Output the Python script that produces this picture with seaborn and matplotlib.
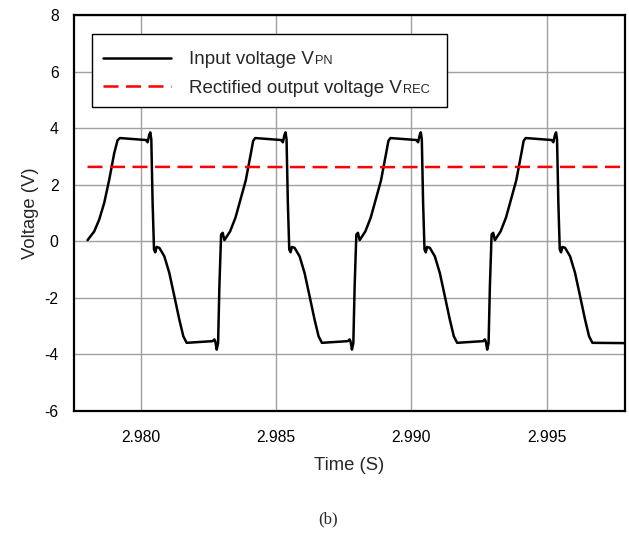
import numpy as np
import pandas as pd
import matplotlib
matplotlib.use("Agg")
import matplotlib.pyplot as plt
from matplotlib.patches import Rectangle
import seaborn as sns

# ---- data ----
time_s = [
    2.978031, 2.978279, 2.978464, 2.978649, 2.978834, 2.979019, 2.979141,
    # period 1
    2.979230, 2.980193, 2.980252, 2.980315, 2.980352, 2.980389, 2.980437, 2.980489,
    2.980537, 2.980585, 2.980685, 2.980870, 2.981055, 2.981240, 2.981425, 2.981573,
    2.981696, 2.982658, 2.982721, 2.982758, 2.982806, 2.982858, 2.982906, 2.982969,
    2.983028, 2.983091, 2.983302, 2.983502, 2.983880, 2.984068, 2.984154,
    # period 2
    2.984230, 2.985193, 2.985252, 2.985315, 2.985352, 2.985389, 2.985437, 2.985489,
    2.985537, 2.985585, 2.985685, 2.985870, 2.986055, 2.986240, 2.986425, 2.986573,
    2.986696, 2.987658, 2.987721, 2.987758, 2.987806, 2.987858, 2.987906, 2.987969,
    2.988028, 2.988091, 2.988302, 2.988502, 2.988880, 2.989068, 2.989154,
    # period 3
    2.989230, 2.990193, 2.990252, 2.990315, 2.990352, 2.990389, 2.990437, 2.990489,
    2.990537, 2.990585, 2.990685, 2.990870, 2.991055, 2.991240, 2.991425, 2.991573,
    2.991696, 2.992658, 2.992721, 2.992758, 2.992806, 2.992858, 2.992906, 2.992969,
    2.993028, 2.993091, 2.993302, 2.993502, 2.993880, 2.994068, 2.994154,
    # period 4
    2.994230, 2.995193, 2.995252, 2.995315, 2.995352, 2.995389, 2.995437, 2.995489,
    2.995537, 2.995585, 2.995685, 2.995870, 2.996055, 2.996240, 2.996425, 2.996573,
    2.996696, 2.997900,
]

v_pn = [
    0.04, 0.35, 0.77, 1.36, 2.18, 3.12, 3.57,
    # period 1
    3.65, 3.58, 3.50, 3.77, 3.85, 3.60, 1.36, -0.29,
    -0.39, -0.20, -0.23, -0.53, -1.12, -1.94, -2.77, -3.36,
    -3.59, -3.53, -3.47, -3.55, -3.83, -3.60, -1.59, 0.24,
    0.30, 0.04, 0.35, 0.84, 2.15, 3.10, 3.55,
    # period 2
    3.65, 3.58, 3.50, 3.77, 3.85, 3.60, 1.36, -0.29,
    -0.39, -0.20, -0.23, -0.53, -1.12, -1.94, -2.77, -3.36,
    -3.59, -3.53, -3.47, -3.55, -3.83, -3.60, -1.59, 0.24,
    0.30, 0.04, 0.35, 0.84, 2.15, 3.10, 3.55,
    # period 3
    3.65, 3.58, 3.50, 3.77, 3.85, 3.60, 1.36, -0.29,
    -0.39, -0.20, -0.23, -0.53, -1.12, -1.94, -2.77, -3.36,
    -3.59, -3.53, -3.47, -3.55, -3.83, -3.60, -1.59, 0.24,
    0.30, 0.04, 0.35, 0.84, 2.15, 3.10, 3.55,
    # period 4
    3.65, 3.58, 3.50, 3.77, 3.85, 3.60, 1.36, -0.29,
    -0.39, -0.20, -0.23, -0.53, -1.12, -1.94, -2.77, -3.36,
    -3.59, -3.60,
]

rec_time = [2.978031, 2.982900, 2.987900, 2.992900, 2.997900]
v_rec = [2.63, 2.63, 2.62, 2.63, 2.63]

x_ticks = [2.980, 2.985, 2.990, 2.995]
x_tick_labels = ["2.980", "2.985", "2.990", "2.995"]
y_ticks = [-6, -4, -2, 0, 2, 4, 6, 8]

label_pn_main, label_pn_sub = "Input voltage V", "PN"
label_rec_main, label_rec_sub = "Rectified output voltage V", "REC"

# ---- plot ----
sns.set_style("white")
plt.rcParams["font.family"] = ["Liberation Sans", "DejaVu Sans"]
plt.rcParams["axes.unicode_minus"] = False

df_pn = pd.DataFrame({"t": time_s, "v": v_pn})
df_rec = pd.DataFrame({"t": rec_time, "v": v_rec})

fig = plt.figure(figsize=(6.29, 5.44), dpi=100)
ax = fig.add_axes([0.1176, 0.2445, 0.8760, 0.7279])

sns.lineplot(data=df_pn, x="t", y="v", ax=ax, color="black", lw=1.8,
             estimator=None, sort=False, label=label_pn_main)
sns.lineplot(data=df_rec, x="t", y="v", ax=ax, color="#ff0000", lw=1.8,
             estimator=None, sort=False, label=label_rec_main,
             linestyle=(0, (6, 3)))

ax.set_xlim(2.97753, 2.99790)
ax.set_ylim(-6, 8)
ax.set_xticks(x_ticks)
ax.set_xticklabels(x_tick_labels)
ax.set_yticks(y_ticks)
ax.tick_params(axis="both", direction="out", length=5, width=1,
               labelsize=11.3, colors="black", pad=6)
ax.tick_params(axis="x", pad=9)
ax.grid(True, color="#a0a0a0", lw=1)
ax.set_axisbelow(True)
for s in ax.spines.values():
    s.set_color("black")
    s.set_linewidth(1.6)

ax.set_xlabel("Time (S)", fontsize=13.3, labelpad=8)
ax.set_ylabel("Voltage (V)", fontsize=13.3, labelpad=4)

# legend box (drawn as its own frame so that the small suffixes fit inside)
ax.add_patch(Rectangle((0.0327, 0.768), 0.6443, 0.184, transform=ax.transAxes,
                       facecolor="white", edgecolor="black", lw=1.0,
                       zorder=4.5))
leg = ax.legend(loc="upper left", bbox_to_anchor=(0.0327, 0.937),
                borderaxespad=0, frameon=False, fontsize=13.5,
                handlelength=3.63, handletextpad=0.96, labelspacing=0.61,
                borderpad=0.59)

# small baseline-aligned suffixes (PN, REC) as in the original legend
subs = [label_pn_sub, label_rec_sub]
fig.canvas.draw()
renderer = fig.canvas.get_renderer()
for txt, sub in zip(leg.get_texts(), subs):
    bb = txt.get_window_extent(renderer)
    ax.annotate(sub, xy=(bb.x1, bb.y0), xycoords="figure pixels",
                xytext=(0.6, 2.87), textcoords="offset points",
                fontsize=9.2, va="baseline", ha="left", zorder=10,
                annotation_clip=False)

fig.text(0.5215, 0.045, "(b)", ha="center", va="center",
         family="Liberation Serif", fontsize=12)

fig.savefig("out.png", dpi=100)
